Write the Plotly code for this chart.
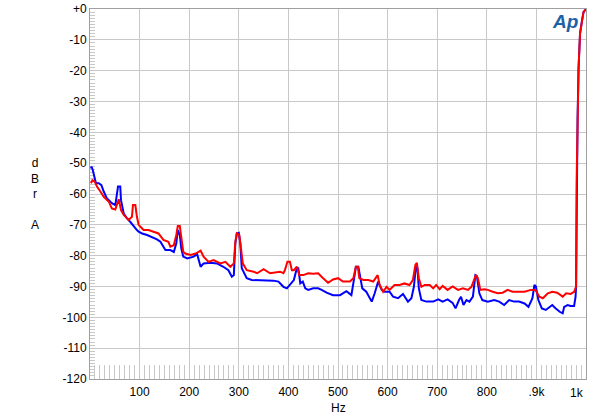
import plotly.graph_objects as go

# spectrum of the two channels
freq_blue = [2, 3, 5.6, 9.6, 12, 17.7, 23, 27.7, 34, 44, 51, 54.5, 56.5, 61, 62.5, 68, 74.5, 81, 88, 94.6,
             98, 105, 115, 125, 135, 142, 152, 162, 169, 174, 177, 181, 184, 188, 196, 209, 216, 223, 229,
             243, 256, 269, 279, 286, 290, 293, 296, 300, 303, 306, 316, 326, 350, 370, 380, 390, 397, 403,
             411, 417, 420, 424, 429, 434, 440, 450, 460, 467, 477, 490, 504, 517, 527, 532, 536, 541, 544,
             549, 557, 568, 574, 581, 588, 594, 604, 611, 621, 631, 641, 648, 653, 657, 660, 663, 668, 678,
             692, 702, 711, 721, 731, 737, 744, 748, 753, 759, 765, 772, 777, 780, 785, 791, 802, 815, 825,
             835, 845, 855, 865, 876, 884, 892, 896, 899, 904, 911, 919, 926, 932, 939, 947, 953, 956, 963,
             969, 976, 979, 980, 981, 983, 985, 988, 992, 995, 1000]
db_blue = [-51.7, -51.1, -52.2, -54.4, -56.5, -56.5, -57.1, -59.2, -61.4, -63, -63.6, -59.8, -57.6, -57.6, -62,
           -66.3, -67.9, -69, -70.6, -71.7,
           -72.2, -72.8, -73.3, -73.9, -74.7, -75.5, -78.2, -78.2, -78.8, -76, -71.7, -73.3, -77.6, -80.3,
           -80.9, -80.3, -79.5, -83.6, -82.5,
           -82.3, -82.5, -83.6, -84.7, -86.8, -86.3, -76, -72.8, -72.6, -76, -84.1, -87.3, -87.9, -87.9,
           -88.1, -88.4, -90.1, -90.6, -89.5,
           -87.9, -84.1, -84.1, -89, -88.4, -90.6, -91.1, -90.6, -90.6, -91.1, -92, -92.8, -92.8, -91.5,
           -92.8, -87.9, -83.6, -83.6, -86.8,
           -90.6, -91.7, -94.9, -92.2, -88.4, -91.1, -91.7, -91.7, -93.3, -93.8, -92.4, -94.9, -93.8, -90.1,
           -83.6, -84, -90.6, -94.4, -94.9,
           -94.9, -94.2, -94.9, -94.2, -95.3, -97.1, -94.4, -93.3, -96, -94.4, -94.9, -93.3, -86.3, -86.6,
           -92.2, -94.4, -94.9, -94.4, -94.9,
           -96, -94.4, -94.9, -94.9, -95.5, -96.6, -93.8, -89.5, -90, -94.4, -97.1, -97.6, -96.6, -96, -97.1,
           -98.2, -98.7, -96.6, -96,
           -96.3, -96.3, -93.3, -90, -56.5, -35.5, -19.2, -7.9, -3.6, -1, 0]

freq_red = [2, 5, 9.6, 14, 21, 27.7, 38, 44, 51, 56.5, 58, 62.5, 68, 78, 84.6, 86.6, 91.4, 94.6, 98, 104.7,
            108, 118, 128, 138, 148, 158, 162, 169, 174, 177, 181, 184, 188, 192, 203, 213, 223, 229, 239,
            249, 263, 273, 283, 290, 293, 296, 301, 304, 308, 316, 330, 337, 350, 363, 377, 383, 390, 393,
            398, 403, 407, 411, 417, 422, 430, 440, 450, 460, 470, 480, 490, 500, 510, 524, 531, 536, 540,
            543, 551, 561, 571, 580, 584, 591, 598, 604, 614, 624, 634, 644, 651, 656, 659, 663, 668, 675,
            685, 692, 698, 705, 711, 721, 731, 742, 752, 762, 769, 775, 778, 782, 787, 795, 802, 812, 822,
            832, 842, 852, 862, 876, 889, 898, 906, 913, 923, 932, 942, 953, 960, 969, 976, 979, 980, 981,
            983, 985, 988, 992, 995, 1000]
db_red = [-56.5, -55.5, -56, -57.6, -59.2, -60.9, -62.5, -64.7, -65, -62, -61.7, -65.2, -66.8, -68.4, -67.4,
          -63.6, -63.6, -67.4, -70, -71.1,
          -71.7, -71.7, -72.2, -72.8, -74.9, -75.5, -77.1, -76.6, -73.3, -70.4, -70.4, -74.9, -78.7, -79.3,
          -79.8, -79.3, -78.4, -80.3, -82,
          -81.4, -82.5, -82, -83.6, -82.5, -75.5, -72.8, -73.3, -77.1, -82.5, -84.7, -85.2, -85.7, -84.4,
          -85.7, -85.2, -85.2, -85.7, -84.7,
          -82, -82, -84.7, -84.7, -83.6, -86.3, -86.3, -85.7, -85.9, -85.7, -87.3, -88.8, -87.7, -87.3,
          -88.4, -88.4, -87.3, -83.6, -83.6,
          -87.3, -87.9, -87.9, -88.4, -86.3, -89.5, -91.7, -90.1, -91.1, -89.5, -89.5, -89, -89.5, -87.9,
          -83, -82.3, -87.3, -90.1, -89.5,
          -89.5, -90.6, -89.5, -90.9, -89.8, -91.1, -90, -91.1, -90.6, -91.1, -90.1, -87.3, -86.3, -87.3,
          -91.1, -90.9, -91.1, -91.7, -92.2,
          -92, -91.1, -91.7, -91.7, -91.7, -91.1, -91.1, -93.3, -93.8, -92.2, -91.7, -92, -93.3, -92.2,
          -92.4, -91.7, -90.1, -90, -56.5,
          -35.5, -19.2, -7.9, -3.6, -1, 0]

x_ticks = [100, 200, 300, 400, 500, 600, 700, 800, 900, 1000]
x_labels = ["100", "200", "300", "400", "500", "600", "700", "800", ".9k", ""]
y_ticks = list(range(-120, 1, 10))
y_labels = ["+0" if v == 0 else str(v) for v in y_ticks]

fig = go.Figure()
fig.add_trace(go.Scatter(x=freq_blue, y=db_blue, mode="lines",
                         line=dict(color="#0000ff", width=2), showlegend=False))
fig.add_trace(go.Scatter(x=freq_red, y=db_red, mode="lines",
                         line=dict(color="#ff0000", width=2), showlegend=False))

font = dict(family="Liberation Sans, Arial, sans-serif", size=12, color="black")

fig.update_layout(
    width=600,
    height=419,
    margin=dict(l=90, r=14, t=9, b=40, autoexpand=False),
    paper_bgcolor="white",
    plot_bgcolor="white",
    font=font,
    showlegend=False,
)
fig.update_xaxes(
    range=[0, 1000],
    automargin=False,
    layer="below traces",
    tickvals=x_ticks,
    ticktext=x_labels,
    ticklabelstandoff=2,
    showgrid=True,
    gridcolor="#c8c8c8",
    gridwidth=1,
    showline=True,
    linecolor="#a0a0a0",
    mirror=True,
    ticks="inside",
    ticklen=14,
    tickcolor="#c8c8c8",
    zeroline=False,
    minor=dict(dtick=10, ticks="inside", ticklen=14, tickcolor="#c8c8c8", showgrid=False),
)
fig.update_yaxes(
    range=[-120, 0],
    automargin=False,
    layer="below traces",
    tickvals=y_ticks,
    ticktext=y_labels,
    showgrid=True,
    gridcolor="#c8c8c8",
    gridwidth=1,
    showline=True,
    linecolor="#a0a0a0",
    mirror=True,
    ticks="inside",
    ticklen=5,
    tickcolor="#c8c8c8",
    zeroline=False,
    minor=dict(dtick=1, ticks="inside", ticklen=5, tickcolor="#c8c8c8", showgrid=False),
)

# last x label sits flush with the right edge
fig.add_annotation(text="1k", xref="paper", yref="paper", x=1.0, y=-0.038,
                   xanchor="right", yanchor="middle", showarrow=False, font=font)
# stacked unit label and axis title
fig.add_annotation(text="d<br>B<br>r<br><br>A", xref="paper", yref="paper", x=-0.111, y=0.5,
                   xanchor="center", yanchor="middle", showarrow=False, font=font, align="center")
fig.add_annotation(text="Hz", xref="paper", yref="paper", x=0.5, y=-0.078,
                   xanchor="center", yanchor="middle", showarrow=False, font=font)
# AP logo
fig.add_annotation(text="<b><i>Ap</i></b>", xref="paper", yref="paper", x=0.958, y=0.965,
                   xanchor="center", yanchor="middle", showarrow=False,
                   font=dict(family="Liberation Sans, Arial", size=19, color="#1f5fa6"))

# drop the default body margin so the figure sits at the window corner
fig.write_html("out.html", config={"displayModeBar": False},
               post_script="document.body.style.margin='0';")
